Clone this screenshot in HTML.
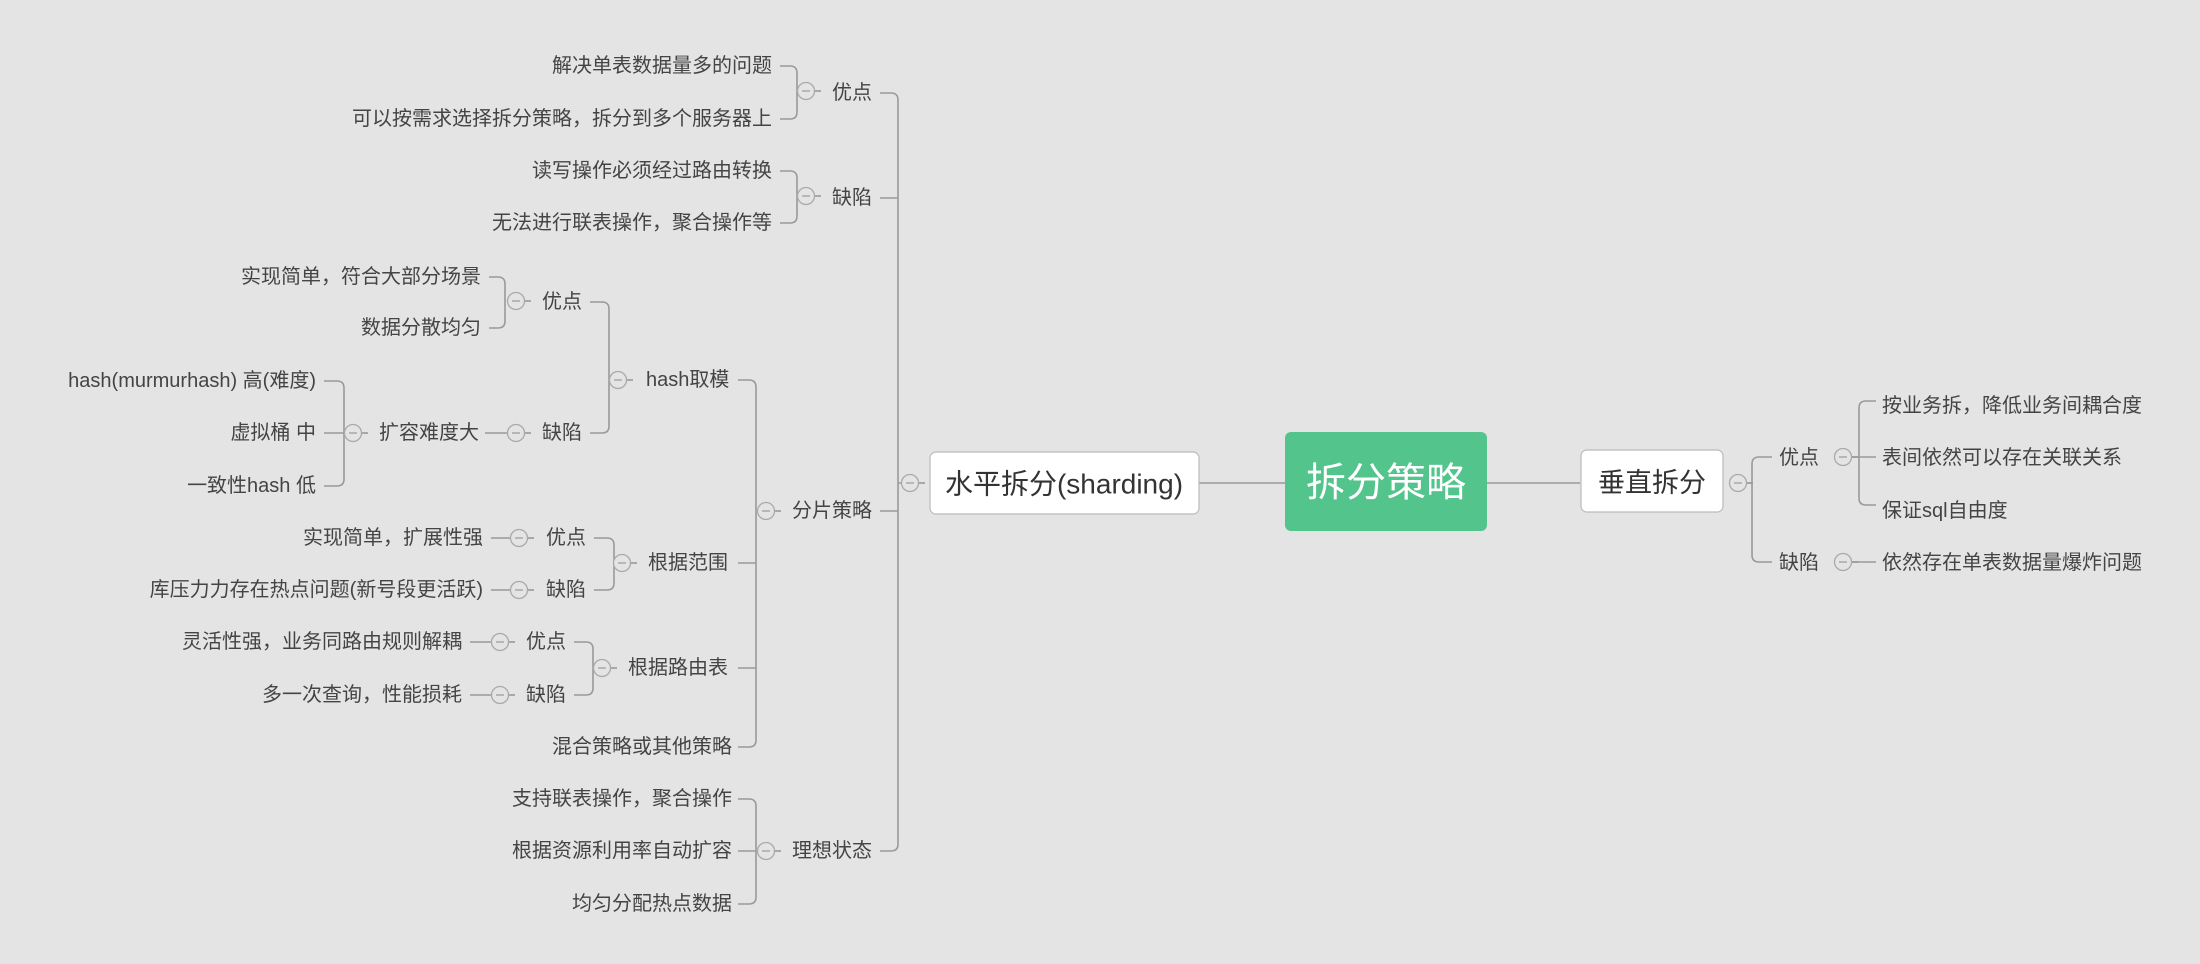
<!DOCTYPE html>
<html><head><meta charset="utf-8"><style>
html,body{margin:0;padding:0;background:#e4e4e4;}
svg{display:block}
text{font-family:"Liberation Sans","Noto Sans CJK SC",sans-serif;font-size:20px;fill:#444;dominant-baseline:central}
.l{fill:none;stroke:#9a9a9a;stroke-width:1.6}
.c{fill:#e4e4e4;stroke:#aaa;stroke-width:1.3}
</style></head><body>
<svg width="2200" height="964" viewBox="0 0 2200 964" xmlns="http://www.w3.org/2000/svg">
<defs>
<g id="cc"><circle class="c" cx="0" cy="0" r="8.5"/><line x1="-4" y1="0" x2="4" y2="0" stroke="#999" stroke-width="1.2"/><line x1="9" y1="0" x2="15" y2="0" stroke="#999" stroke-width="1.6"/></g>
</defs>
<g class="l">
<!-- top 优点 group -->
<path d="M780,66 H790 Q797,66 797,73 V112 Q797,119 790,119 H780"/>
<path d="M780,171 H790 Q797,171 797,178 V216 Q797,223 790,223 H780"/>
<!-- main left bracket -->
<path d="M880,93 H891 Q898,93 898,100 V844 Q898,851 891,851 H880"/>
<path d="M880,198 H898 M880,511 H898 M898,483 H902"/>
<!-- hash 优点 group -->
<path d="M489,277 H498 Q505,277 505,284 V321 Q505,328 498,328 H489"/>
<path d="M485,433 H508"/>
<!-- 扩容 group -->
<path d="M324,381 H337 Q344,381 344,388 V479 Q344,486 337,486 H324 M324,433 H345"/>
<!-- hash group -->
<path d="M590,302 H602 Q609,302 609,309 V426 Q609,433 602,433 H590"/>
<!-- 分片 group -->
<path d="M738,380 H749 Q756,380 756,387 V740 Q756,747 749,747 H738 M738,563 H756 M738,668 H756"/>
<!-- range -->
<path d="M491,538 H511 M491,590 H511"/>
<path d="M594,538 H607 Q614,538 614,545 V583 Q614,590 607,590 H594"/>
<!-- route -->
<path d="M470,642 H492 M470,695 H492"/>
<path d="M574,642 H586 Q593,642 593,649 V688 Q593,695 586,695 H574"/>
<!-- 理想 -->
<path d="M738,799 H749 Q756,799 756,806 V897 Q756,904 749,904 H738 M738,851 H756"/>
<!-- center lines -->
<path d="M1192,483 H1290 M1487,483 H1580"/>
<!-- right -->
<path d="M1748,483 H1752 M1772,457 H1759 Q1752,457 1752,464 V555 Q1752,562 1759,562 H1772"/>
<path d="M1876,401 H1866 Q1859,401 1859,408 V498 Q1859,505 1866,505 H1876 M1852,457 H1876 M1852,562 H1876"/>
</g>
<!-- circles -->
<use href="#cc" x="806" y="91"/>
<use href="#cc" x="806" y="196"/>
<use href="#cc" x="516" y="301"/>
<use href="#cc" x="516" y="433"/>
<use href="#cc" x="353" y="433"/>
<use href="#cc" x="618" y="380"/>
<use href="#cc" x="766" y="511"/>
<use href="#cc" x="519" y="538"/>
<use href="#cc" x="519" y="590"/>
<use href="#cc" x="622" y="563"/>
<use href="#cc" x="500" y="642"/>
<use href="#cc" x="500" y="695"/>
<use href="#cc" x="602" y="668"/>
<use href="#cc" x="766" y="851"/>
<use href="#cc" x="910" y="483"/>
<use href="#cc" x="1738" y="483"/>
<use href="#cc" x="1843" y="457"/>
<use href="#cc" x="1843" y="562"/>
<!-- boxes -->
<rect x="930" y="452" width="269" height="62" rx="6" fill="#fff" stroke="#bbb" stroke-width="1.2"/>
<rect x="1285" y="432" width="202" height="99" rx="6" fill="#52c48c"/>
<rect x="1581" y="450" width="142" height="62" rx="6" fill="#fff" stroke="#bbb" stroke-width="1.2"/>
<text x="1064" y="484" text-anchor="middle" style="font-size:28px;fill:#333">水平拆分(sharding)</text>
<text x="1386" y="483" text-anchor="middle" style="font-size:40px;fill:#fff">拆分策略</text>
<text x="1652" y="483" text-anchor="middle" style="font-size:27px;fill:#333">垂直拆分</text>
<!-- left texts -->
<g text-anchor="end">
<text x="772" y="66">解决单表数据量多的问题</text>
<text x="772" y="119">可以按需求选择拆分策略，拆分到多个服务器上</text>
<text x="772" y="171">读写操作必须经过路由转换</text>
<text x="772" y="223">无法进行联表操作，聚合操作等</text>
<text x="481" y="277">实现简单，符合大部分场景</text>
<text x="481" y="328">数据分散均匀</text>
<text x="316" y="381">hash(murmurhash) 高(难度)</text>
<text x="316" y="433">虚拟桶 中</text>
<text x="316" y="486">一致性hash 低</text>
<text x="483" y="538">实现简单，扩展性强</text>
<text x="483" y="590">库压力力存在热点问题(新号段更活跃)</text>
<text x="462" y="642">灵活性强，业务同路由规则解耦</text>
<text x="462" y="695">多一次查询，性能损耗</text>
<text x="732" y="747">混合策略或其他策略</text>
<text x="732" y="799">支持联表操作，聚合操作</text>
<text x="732" y="851">根据资源利用率自动扩容</text>
<text x="732" y="904">均匀分配热点数据</text>
</g>
<text x="832" y="93">优点</text>
<text x="832" y="198">缺陷</text>
<text x="542" y="302">优点</text>
<text x="542" y="433">缺陷</text>
<text x="379" y="433">扩容难度大</text>
<text x="646" y="380">hash取模</text>
<text x="792" y="511">分片策略</text>
<text x="546" y="538">优点</text>
<text x="546" y="590">缺陷</text>
<text x="648" y="563">根据范围</text>
<text x="526" y="642">优点</text>
<text x="526" y="695">缺陷</text>
<text x="628" y="668">根据路由表</text>
<text x="792" y="851">理想状态</text>
<!-- right texts -->
<text x="1779" y="458">优点</text>
<text x="1779" y="563">缺陷</text>
<text x="1882" y="406">按业务拆，降低业务间耦合度</text>
<text x="1882" y="458">表间依然可以存在关联关系</text>
<text x="1882" y="511">保证sql自由度</text>
<text x="1882" y="563">依然存在单表数据量爆炸问题</text>
</svg>
</body></html>
